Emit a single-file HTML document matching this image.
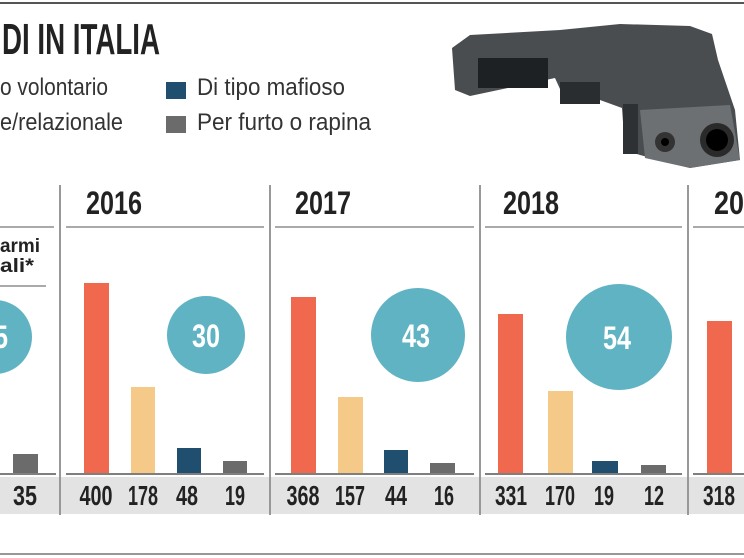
<!DOCTYPE html>
<html><head><meta charset="utf-8"><style>
html,body{margin:0;padding:0;background:#fff;}
svg{display:block;}
text{font-family:"Liberation Sans",sans-serif;}
</style></head><body>
<svg width="744" height="558" viewBox="0 0 744 558">
<rect width="744" height="558" fill="#fff"/>
<line x1="0" y1="3" x2="744" y2="3" stroke="#555" stroke-width="2"/>
<line x1="0" y1="554" x2="744" y2="554" stroke="#777" stroke-width="1.5"/>
<text x="2" y="54" font-size="44" font-weight="bold" fill="#222" textLength="158" lengthAdjust="spacingAndGlyphs">DI IN ITALIA</text>
<text x="0" y="95" font-size="24" fill="#333" textLength="108" lengthAdjust="spacingAndGlyphs">o volontario</text>
<text x="0" y="130" font-size="24" fill="#333" textLength="123" lengthAdjust="spacingAndGlyphs">e/relazionale</text>
<rect x="166" y="82" width="20" height="17" fill="#1f4e6e"/>
<rect x="166" y="116" width="20" height="17" fill="#6b6b6b"/>
<text x="197" y="95" font-size="24" fill="#333" textLength="148" lengthAdjust="spacingAndGlyphs">Di tipo mafioso</text>
<text x="197" y="130" font-size="24" fill="#333" textLength="174" lengthAdjust="spacingAndGlyphs">Per furto o rapina</text>
<!-- gun -->
<g>
<path d="M452 48 L470 35 L560 30 L620 24 L690 26 L712 34 L718 60 L735 110 L740 160 L690 168 L640 155 L625 150 L622 108 L600 100 L565 100 L555 78 L470 96 L455 90 Z" fill="#4a4d4f"/>
<rect x="478" y="58" width="70" height="30" fill="#1e2124"/>
<rect x="560" y="82" width="40" height="22" fill="#2a2d30"/>
<path d="M640 110 L730 105 L740 160 L690 168 L645 158 Z" fill="#6d7072"/>
<circle cx="717" cy="140" r="17" fill="#2a2a2a"/><circle cx="717" cy="140" r="11" fill="#000"/>
<circle cx="665" cy="142" r="10" fill="#333"/><circle cx="665" cy="142" r="4" fill="#000"/>
<rect x="623" y="104" width="15" height="50" fill="#2e3133"/>
</g>
<g stroke="#777" stroke-width="1.5">
<line x1="60" y1="185" x2="60" y2="515"/>
<line x1="270" y1="185" x2="270" y2="515"/>
<line x1="480" y1="185" x2="480" y2="515"/>
<line x1="688" y1="185" x2="688" y2="515"/>
</g>
<g stroke="#777" stroke-width="1.2">
<line x1="0" y1="227" x2="54" y2="227"/>
<line x1="66" y1="227" x2="264" y2="227"/>
<line x1="275" y1="227" x2="474" y2="227"/>
<line x1="485" y1="227" x2="682" y2="227"/>
<line x1="693" y1="227" x2="744" y2="227"/>
<line x1="0" y1="286" x2="46" y2="286"/>
</g>
<g font-size="32" font-weight="bold" fill="#222">
<text x="86" y="214" textLength="56" lengthAdjust="spacingAndGlyphs">2016</text>
<text x="295" y="214" textLength="56" lengthAdjust="spacingAndGlyphs">2017</text>
<text x="503" y="214" textLength="56" lengthAdjust="spacingAndGlyphs">2018</text>
<text x="714" y="214" textLength="30" lengthAdjust="spacingAndGlyphs">20</text>
</g>
<text x="0" y="252" font-size="19" font-weight="bold" fill="#222" textLength="40" lengthAdjust="spacingAndGlyphs">armi</text>
<text x="0" y="272" font-size="19" font-weight="bold" fill="#222" textLength="34" lengthAdjust="spacingAndGlyphs">ali*</text>
<rect x="0" y="477" width="59" height="37" fill="#e3e3e3"/>
<rect x="61" y="477" width="208" height="37" fill="#e3e3e3"/>
<rect x="271" y="477" width="208" height="37" fill="#e3e3e3"/>
<rect x="481" y="477" width="206" height="37" fill="#e3e3e3"/>
<rect x="689" y="477" width="55" height="37" fill="#e3e3e3"/>
<g stroke="#555" stroke-width="1.5">
<line x1="0" y1="474" x2="56" y2="474"/>
<line x1="66" y1="474" x2="264" y2="474"/>
<line x1="275" y1="474" x2="474" y2="474"/>
<line x1="485" y1="474" x2="682" y2="474"/>
<line x1="693" y1="474" x2="744" y2="474"/>
</g>
<g fill="#5fb3c3">
<circle cx="-5" cy="337" r="37"/>
<circle cx="206" cy="335" r="39"/>
<circle cx="418" cy="335" r="47"/>
<circle cx="619" cy="337" r="53"/>
</g>
<g font-size="32" font-weight="bold" fill="#fff" text-anchor="middle">
<text x="1" y="348" textLength="14" lengthAdjust="spacingAndGlyphs">5</text>
<text x="206" y="347" textLength="28" lengthAdjust="spacingAndGlyphs">30</text>
<text x="416" y="347" textLength="28" lengthAdjust="spacingAndGlyphs">43</text>
<text x="617" y="349" textLength="28" lengthAdjust="spacingAndGlyphs">54</text>
</g>
<rect x="13" y="454" width="25" height="19" fill="#6b6b6b"/>
<rect x="84" y="283" width="25" height="190" fill="#f0694f"/>
<rect x="131" y="387" width="24" height="86" fill="#f5c987"/>
<rect x="177" y="448" width="24" height="25" fill="#1f4e6e"/>
<rect x="223" y="461" width="24" height="12" fill="#6b6b6b"/>
<rect x="291" y="297" width="25" height="176" fill="#f0694f"/>
<rect x="338" y="397" width="25" height="76" fill="#f5c987"/>
<rect x="384" y="450" width="24" height="23" fill="#1f4e6e"/>
<rect x="430" y="463" width="25" height="10" fill="#6b6b6b"/>
<rect x="498" y="314" width="25" height="159" fill="#f0694f"/>
<rect x="548" y="391" width="25" height="82" fill="#f5c987"/>
<rect x="592" y="461" width="26" height="12" fill="#1f4e6e"/>
<rect x="641" y="465" width="25" height="8" fill="#6b6b6b"/>
<rect x="707" y="321" width="25" height="152" fill="#f0694f"/>
<g font-size="28" font-weight="bold" fill="#222" text-anchor="middle">
<text x="25" y="505" textLength="24" lengthAdjust="spacingAndGlyphs">35</text>
<text x="96" y="505" textLength="33" lengthAdjust="spacingAndGlyphs">400</text>
<text x="143" y="505" textLength="30" lengthAdjust="spacingAndGlyphs">178</text>
<text x="187" y="505" textLength="22" lengthAdjust="spacingAndGlyphs">48</text>
<text x="235" y="505" textLength="20" lengthAdjust="spacingAndGlyphs">19</text>
<text x="303" y="505" textLength="33" lengthAdjust="spacingAndGlyphs">368</text>
<text x="350" y="505" textLength="30" lengthAdjust="spacingAndGlyphs">157</text>
<text x="396" y="505" textLength="22" lengthAdjust="spacingAndGlyphs">44</text>
<text x="444" y="505" textLength="20" lengthAdjust="spacingAndGlyphs">16</text>
<text x="511" y="505" textLength="32" lengthAdjust="spacingAndGlyphs">331</text>
<text x="560" y="505" textLength="30" lengthAdjust="spacingAndGlyphs">170</text>
<text x="604" y="505" textLength="20" lengthAdjust="spacingAndGlyphs">19</text>
<text x="654" y="505" textLength="20" lengthAdjust="spacingAndGlyphs">12</text>
<text x="719" y="505" textLength="32" lengthAdjust="spacingAndGlyphs">318</text>
</g>
</svg>
</body></html>
